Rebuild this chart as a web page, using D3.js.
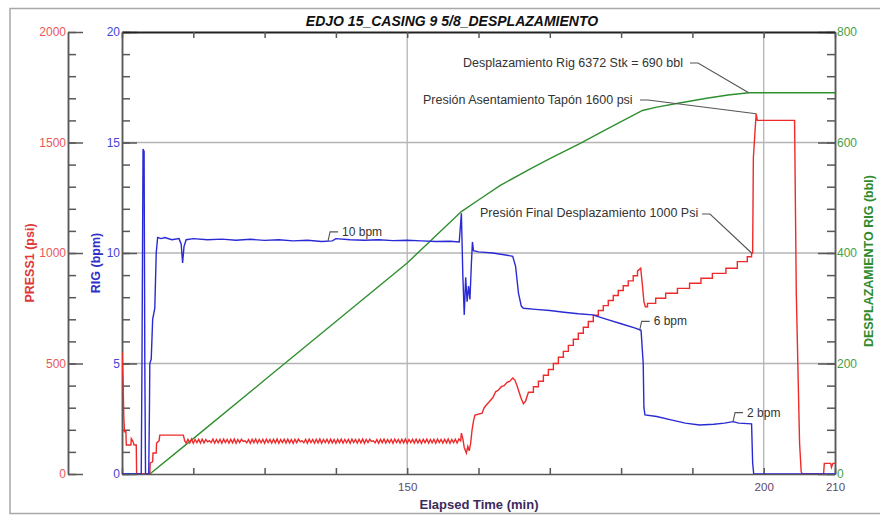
<!DOCTYPE html>
<html><head><meta charset="utf-8">
<script src="https://cdn.jsdelivr.net/npm/d3@7"></script>
<style>
html,body{margin:0;padding:0;background:#fff;}
svg{display:block;font-family:"Liberation Sans",Arial,sans-serif;}
</style></head><body>
<svg id="chart" width="880" height="516"></svg>
<script>
// ---- data -------------------------------------------------------------
const title = "EDJO 15_CASING 9 5/8_DESPLAZAMIENTO";
const timeTicks = [110,120,130,140,150,160,170,180,190,200,210];
const timeLabels = [150,200,210];
const timeGrid = [150,200];
const pressTicks = [0,500,1000,1500,2000];
const rigTicks = [0,5,10,15,20];
const volTicks = [0,200,400,600,800];

// PRESS1 (psi): start-up section
const pressStart = [
  [110.0,553],[110.15,420],[110.25,260],[110.35,191],[110.55,191],[110.6,131],[111.25,131],[111.3,160],[111.5,150],[111.7,131],[112.0,131],[112.05,0],
  [113.9,0],[113.95,50],[114.3,55],[114.35,95],[114.8,95],[114.85,140],[115.2,150],[115.3,176],[118.6,176],[118.8,150]
];
// PRESS1 (psi): circulating band, logged every 0.25 min from 119.0 min
const bandStart = 119.0, bandStep = 0.25;
const pressBand = [
  140,157,141,158,139,156,142,157,140,158, 141,156,146,151,142,158,140,156,141,157,
  139,158,142,156,140,157,141,158,139,156, 142,157,147,150,141,156,139,157,142,158,
  140,156,141,157,139,158,142,156,140,157, 141,158,139,156,142,157,140,158,141,156,
  139,157,142,158,146,151,141,157,139,158, 142,156,140,157,141,158,139,156,142,157,
  140,158,141,156,139,157,142,158,140,156, 141,157,139,158,142,156,140,157,141,158,
  139,156,142,157,147,150,141,156,139,157, 142,158,140,156,141,157,139,158,142,156,
  140,157,141,158,139,156,142,157,140,158, 141,156,139,157,142,158,140,156,141,157,
  139,158,142,156,140,157,141,158,139,156, 142,157,140,158
];
// PRESS1 (psi): displacement ramp, plug bump and bleed-off
const pressEnd = [
  [157.5,150],[157.6,185],[157.8,160],[158.0,120],[158.3,95],[158.5,125],[158.7,105],[158.9,140],[159.1,200],[159.3,240],
  [159.5,267],[160.5,275],[160.8,300],[161.1,312],[161.6,330],[162.0,345],[162.4,372],[162.8,380],[163.2,395],[163.6,400],
  [164.0,415],[164.4,420],[164.8,434],[165.1,425],[165.4,400],[165.7,370],[166.0,340],[166.3,318],[166.6,330],[167.0,370],
  [167.7,370],[167.7,395],[168.4,395],[168.4,420],[169.1,420],[169.1,447],[169.8,447],[169.8,473],[170.5,473],[170.5,500],
  [171.2,500],[171.2,528],[171.9,528],[171.9,555],[172.6,555],[172.6,582],[173.3,582],[173.3,610],[174.0,610],[174.0,637],
  [174.7,637],[174.7,664],[175.4,664],[175.4,690],[176.1,690],[176.1,718],[176.8,718],[176.8,740],[177.5,740],[177.5,762],
  [178.2,762],[178.2,785],[178.9,785],[178.9,808],[179.6,808],[179.6,830],[180.3,830],[180.3,852],[181.0,852],[181.0,874],
  [181.7,874],[181.7,897],[182.3,897],[182.3,918],[182.75,931],[183.0,850],[183.2,780],[183.4,757],[183.7,757],[183.7,772],
  [184.85,772],[184.85,795],[186.25,795],[186.25,818],[187.9,818],[187.9,840],[189.6,840],[189.6,863],[191.2,863],[191.2,886],
  [192.8,886],[192.8,908],[194.7,908],[194.7,931],[196.3,931],[196.3,961],[197.7,961],[197.7,983],[198.3,983],[198.3,1000],
  [198.45,1000],[198.55,1430],[198.8,1560],[198.95,1630],[199.1,1600],[204.33,1600],[204.57,819],[205.03,140],[205.26,10],
  [205.4,0],[208.4,0],[208.5,48],[209.4,48],[209.5,30],[209.7,48],[210,48]
];

// RIG pump rate (bpm)
const rigRate = [
  [110,0],[112.7,0],[112.8,5],[112.95,14.7],[113.1,14.6],[113.2,5],[113.3,0],[113.75,0],[113.85,3],[113.9,5.0],[114.1,5.2],
  [114.3,7],[114.6,7.5],[114.8,10],[115.0,10.7],[115.5,10.65],[116,10.7],[117,10.6],[118.0,10.65],[118.3,10.4],[118.5,9.55],
  [118.7,10.3],[119,10.6],[120,10.65],[122,10.6],[124,10.63],[126,10.58],[128,10.62],[130,10.57],[132,10.6],[134,10.55],
  [136,10.58],[138,10.52],[139.5,10.55],[140,10.65],[142,10.6],[144,10.58],[146,10.6],[148,10.56],[150,10.58],[152,10.55],
  [154,10.52],[156,10.53],[157.3,10.5],[157.6,11.8],[157.8,9],[158.0,7.2],[158.2,8.9],[158.4,7.8],[158.6,8.5],[158.8,7.9],
  [159.0,9.5],[159.15,10.5],[159.3,10.1],[160,10.05],[162,10.0],[164,9.9],[164.8,9.85],[165.2,9.4],[165.6,8.2],[166,7.6],
  [166.3,7.5],[168,7.45],[170,7.4],[172,7.32],[174,7.25],[176,7.2],[178,7.0],[180,6.8],[182,6.6],[182.8,6.5],[183.1,5],
  [183.2,3],[183.35,2.67],[185,2.6],[187,2.45],[189,2.3],[191,2.22],[193,2.25],[194.5,2.3],[195.7,2.37],[196.5,2.3],
  [198.3,2.27],[198.45,0.5],[198.6,0],[210,0]
];

// Cumulative displaced volume (bbl)
const volume = [
  [110,0],[113.9,0],[120,64],[130,170],[140,276],[150,382],[157.6,475],[160,496],[163,522],[167.2,552],[170,571],
  [174.2,598],[178,624],[183,658],[185,664],[188,671],[192,680],[195,686],[197.9,690],[210,690]
];

// callouts
const notes = [
  {text:"Desplazamiento Rig 6372 Stk = 690 bbl", tx:463, ty:67, at:[197.9,690], axis:"vol", knee:[698,63]},
  {text:"Presión Asentamiento Tapón 1600 psi", tx:423, ty:104, at:[198.95,1630], axis:"press", knee:[648,100]},
  {text:"Presión Final Desplazamiento 1000 Psi", tx:480, ty:217, at:[198.3,1000], axis:"press", knee:[710,214]}
];
const rateNotes = [
  {text:"10 bpm", at:[138.9,10.55]},
  {text:"6 bpm", at:[182.6,6.5]},
  {text:"2 bpm", at:[195.7,2.37]}
];

const pressure = pressStart
  .concat(pressBand.map((v,i)=>[bandStart + i*bandStep, v]))
  .concat(pressEnd);

// ---- layout ------------------------------------------------------------
const svg = d3.select("#chart");
const L = 122, R = 835, T = 32, B = 474;
const x = d3.scaleLinear().domain([110,210]).range([L,R]);
const yP = d3.scaleLinear().domain([0,2000]).range([B,T]);
const yR = d3.scaleLinear().domain([0,20]).range([B,T]);
const yV = d3.scaleLinear().domain([0,800]).range([B,T]);
const scaleFor = {press:yP, rig:yR, vol:yV};

const red = "#ee2a2a", blue = "#2a2ad4", green = "#2f8f2f", axisGrey = "#585858";

// outer frame
svg.append("rect").attr("x",10).attr("y",8.5).attr("width",880).attr("height",505)
  .attr("fill","none").attr("stroke","#a8a8a8").attr("stroke-width",1.5);

// grid
const grid = svg.append("g").attr("stroke","#b4b4b4").attr("stroke-width",1.3);
grid.selectAll("line.h").data([5,10,15]).join("line").attr("class","h")
  .attr("x1",L).attr("x2",R).attr("y1",d=>yR(d)).attr("y2",d=>yR(d));
grid.selectAll("line.v").data(timeGrid).join("line").attr("class","v")
  .attr("x1",d=>x(d)).attr("x2",d=>x(d)).attr("y1",T).attr("y2",B);

function styleAxis(g, color, size){
  g.select(".domain").attr("stroke",axisGrey).attr("stroke-width",1.5);
  g.selectAll(".tick line").attr("stroke",axisGrey).attr("stroke-width",1.5);
  g.selectAll(".tick text").attr("fill",color).attr("font-size",size).attr("font-family","Liberation Sans, Arial, sans-serif");
}
function minorRange(a,b,s){ const r=[]; for(let v=a; v<=b+1e-9; v+=s) r.push(v); return r; }
const plain = d3.format("d");

// PRESS1 axis
const gP = svg.append("g").attr("transform","translate(68,0)");
gP.append("g").call(d3.axisLeft(yP).tickValues(minorRange(0,2000,100)).tickSizeInner(-8).tickSizeOuter(0).tickFormat(""))
  .call(g=>styleAxis(g,"#000",0));
gP.append("g").call(d3.axisLeft(yP).tickValues(pressTicks).tickSizeInner(-15).tickSizeOuter(0).tickPadding(2).tickFormat(plain))
  .call(g=>styleAxis(g,"#e85858","12px"));

// RIG axis
const gR = svg.append("g").attr("transform",`translate(${L},0)`);
gR.append("g").call(d3.axisLeft(yR).tickValues(minorRange(0,20,1)).tickSizeInner(-8).tickSizeOuter(0).tickFormat(""))
  .call(g=>styleAxis(g,"#000",0));
gR.append("g").call(d3.axisLeft(yR).tickValues(rigTicks).tickSizeInner(-15).tickSizeOuter(0).tickPadding(2).tickFormat(plain))
  .call(g=>styleAxis(g,"#4545d6","12px"));

// volume axis
const gV = svg.append("g").attr("transform",`translate(${R},0)`);
gV.append("g").call(d3.axisRight(yV).tickValues(minorRange(0,800,40)).tickSizeInner(-8).tickSizeOuter(0).tickFormat(""))
  .call(g=>styleAxis(g,"#000",0));
gV.append("g").call(d3.axisRight(yV).tickValues(volTicks).tickSizeInner(-17).tickSizeOuter(0).tickPadding(2).tickFormat(plain))
  .call(g=>styleAxis(g,"#46a046","12px"));

// time axes
const gB = svg.append("g").attr("transform",`translate(0,${B})`)
  .call(d3.axisBottom(x).tickValues(timeTicks).tickSizeInner(-6).tickSizeOuter(0).tickPadding(9)
    .tickFormat(d=>timeLabels.includes(d)?plain(d):""));
styleAxis(gB,"#5a4a6a","11.5px");
const gT = svg.append("g").attr("transform",`translate(0,${T})`)
  .call(d3.axisTop(x).tickValues(timeTicks).tickSizeInner(-6).tickSizeOuter(0).tickFormat(""));
styleAxis(gT,"#000",0);
gT.select(".domain").attr("stroke","#222").attr("stroke-width",2);

// series
svg.append("clipPath").attr("id","plot").append("rect")
  .attr("x",L).attr("y",T-2).attr("width",R-L).attr("height",B-T+2);
const plot = svg.append("g").attr("clip-path","url(#plot)");
const line = s => d3.line().x(d=>x(d[0])).y(d=>s(d[1]));
plot.append("path").datum(volume).attr("d",line(yV)).attr("fill","none").attr("stroke",green).attr("stroke-width",1.4);
plot.append("path").datum(pressure).attr("d",line(yP)).attr("fill","none").attr("stroke",red).attr("stroke-width",1.4);
plot.append("path").datum(rigRate).attr("d",line(yR)).attr("fill","none").attr("stroke",blue).attr("stroke-width",1.4);

// callouts
const ann = svg.append("g").attr("font-size","12.5px").attr("fill","#333");
notes.forEach(n=>{
  const s = scaleFor[n.axis];
  const px = x(n.at[0]), py = s(n.at[1]);
  ann.append("text").attr("x",n.tx).attr("y",n.ty).text(n.text);
  ann.append("path").attr("d",`M${n.knee[0]-8},${n.knee[1]}L${n.knee[0]},${n.knee[1]}L${px},${py}`)
    .attr("fill","none").attr("stroke","#555").attr("stroke-width",1.1);
});
rateNotes.forEach(n=>{
  const px = x(n.at[0]), py = yR(n.at[1]);
  ann.append("path").attr("d",`M${px},${py}L${px+2},${py-9}L${px+10},${py-9}`)
    .attr("fill","none").attr("stroke","#555").attr("stroke-width",1.1);
  ann.append("text").attr("x",px+14).attr("y",py-5).attr("font-size","12px").text(n.text);
});

// titles
svg.append("text").attr("x",452).attr("y",26).attr("text-anchor","middle")
  .attr("font-size","14px").attr("font-weight","bold").attr("font-style","italic").attr("fill","#111").text(title);
svg.append("text").attr("transform","translate(34,263) rotate(-90)").attr("text-anchor","middle")
  .attr("font-size","12.5px").attr("font-weight","bold").attr("fill","#e03838").text("PRESS1 (psi)");
svg.append("text").attr("transform","translate(100,263) rotate(-90)").attr("text-anchor","middle")
  .attr("font-size","12.5px").attr("font-weight","bold").attr("fill","#3030c8").text("RIG (bpm)");
svg.append("text").attr("transform","translate(873,261) rotate(-90)").attr("text-anchor","middle")
  .attr("font-size","12.5px").attr("font-weight","bold").attr("fill","#2e8b2e").text("DESPLAZAMIENTO RIG (bbl)");
svg.append("text").attr("x",479).attr("y",509).attr("text-anchor","middle")
  .attr("font-size","13px").attr("font-weight","bold").attr("fill","#3b2a5c").text("Elapsed Time (min)");
</script>
</body></html>
